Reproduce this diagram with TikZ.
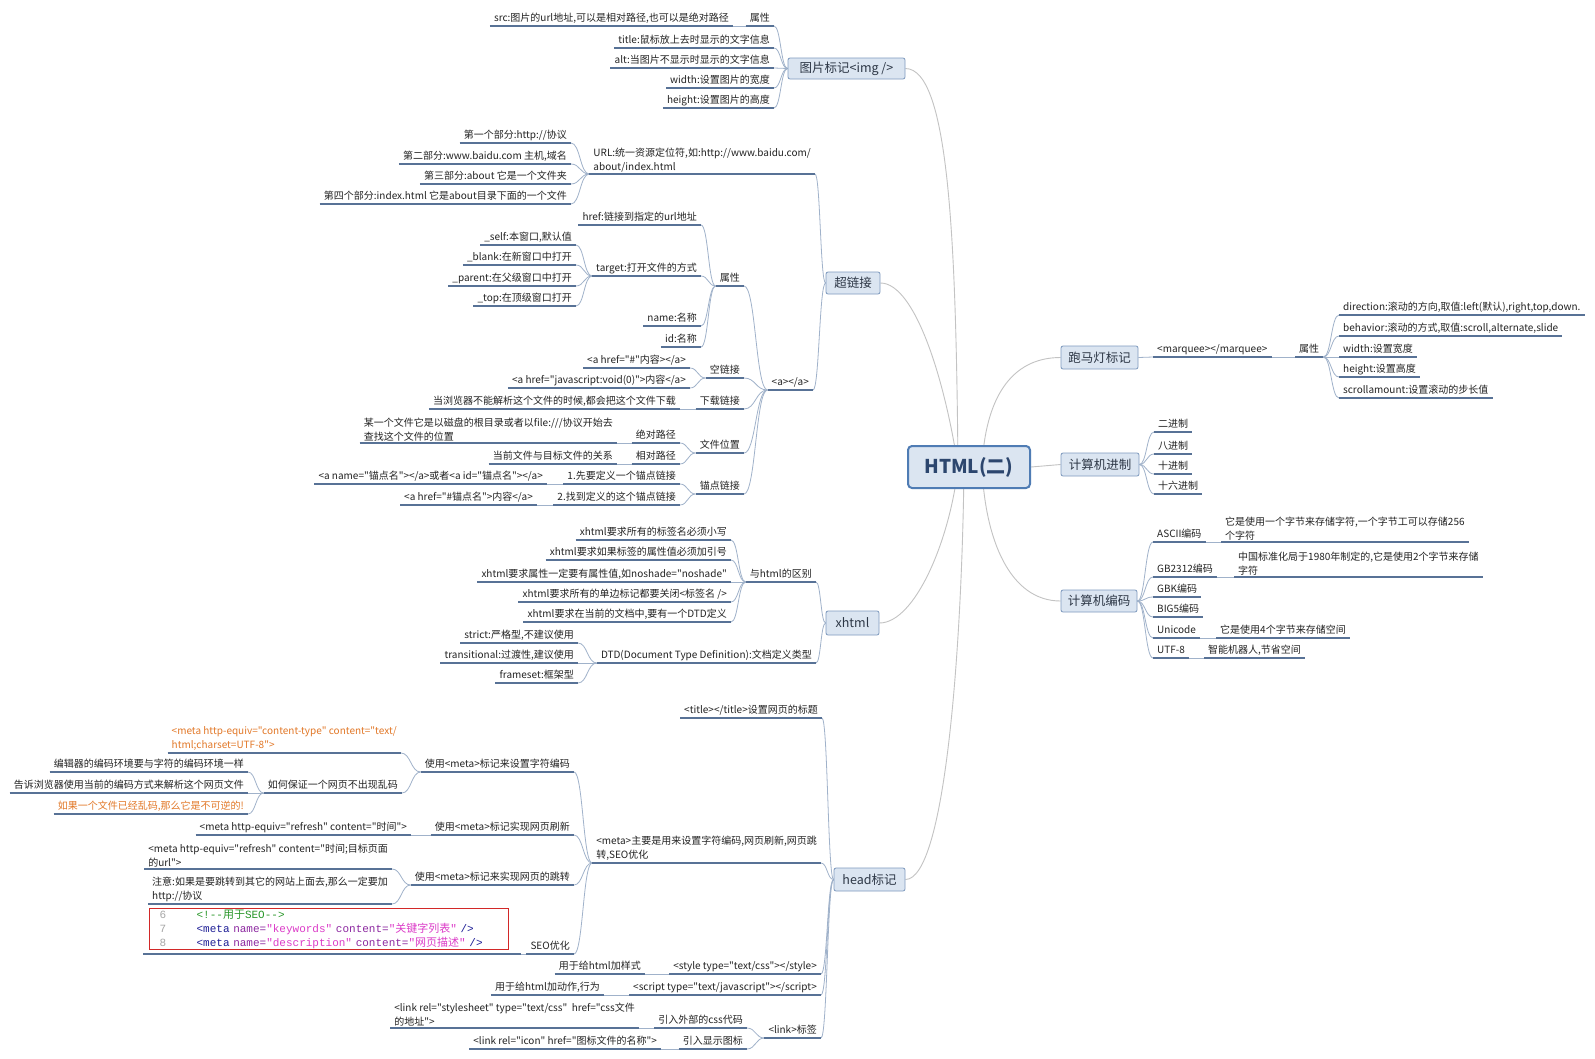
\documentclass[tikz,border=0pt]{standalone}
\usepackage{fontspec}
\setmainfont{Noto Sans CJK SC}[Ligatures=TeXOff]
\setmonofont{Liberation Mono}
\usetikzlibrary{calc}
\definecolor{ulc}{RGB}{88,114,150}
\definecolor{lnc}{RGB}{160,178,202}
\definecolor{mainln}{RGB}{195,195,195}
\definecolor{boxfill}{RGB}{219,229,241}
\definecolor{boxdraw}{RGB}{126,154,190}
\definecolor{ctrdraw}{RGB}{79,124,180}
\definecolor{ctrtext}{RGB}{44,70,110}
\definecolor{boxtext}{RGB}{45,55,70}
\definecolor{txt}{RGB}{35,35,35}
\definecolor{orng}{RGB}{226,120,40}
\definecolor{codegreen}{RGB}{40,150,40}
\definecolor{codenavy}{RGB}{30,30,150}
\definecolor{codepurple}{RGB}{140,40,160}
\definecolor{codepink}{RGB}{220,60,200}
\definecolor{codered}{RGB}{210,40,40}
\newcommand\codeln[2]{\makebox[37pt][l]{\color{gray!70}#1}#2}
\pgfdeclarelayer{bg}
\pgfsetlayers{bg,main}
\begin{document}
\begin{tikzpicture}[x=1pt,y=-1pt,
  every node/.style={text=txt},
  lf/.style={anchor=south east, inner xsep=4pt, inner ysep=2pt, font=\fontsize{10}{14}\selectfont, text height=8pt, text depth=2.5pt},
  rt/.style={lf, anchor=south west},
  lfm/.style={anchor=south east, inner xsep=4pt, inner ysep=2pt, font=\fontsize{10}{14}\selectfont, align=left},
  rtm/.style={lfm, anchor=south west},
  topic/.style={draw=boxdraw, fill=boxfill, rounded corners=2pt, line width=0.8pt, inner sep=0pt, font=\fontsize{12.5}{15}\selectfont, text=boxtext},
  hub/.style={draw=ctrdraw, fill=boxfill, rounded corners=4pt, line width=2pt, inner sep=0pt, font=\bfseries\fontsize{19}{22}\selectfont, text=ctrtext},
  ul/.style={draw=ulc, line width=1.3pt},
  mainc/.style={draw=mainln, line width=0.9pt},
  br/.style={draw=lnc, line width=0.8pt, to path={let \p1=(\tikztostart), \p2=(\tikztotarget) in .. controls ({(\x1+\x2)/2},\y1) and ({(\x1+\x2)/2},\y2) .. (\tikztotarget) \tikztonodes}}
]
\useasboundingbox (0,0) rectangle (1595,1058);
\begin{pgfonlayer}{bg}
\fill[white] (0,0) rectangle (1595,1058);
\end{pgfonlayer}

% ---------- topics ----------
\node[hub, minimum width=122pt, minimum height=42pt] (c) at (969,467) {HTML(二)};
\node[topic, minimum width=117pt, minimum height=21pt] (img) at (846.5,68.5) {图片标记<img />};
\node[topic, minimum width=54pt, minimum height=22pt] (link) at (853,283) {超链接};
\node[topic, minimum width=53pt, minimum height=24pt] (xhtml) at (852.5,623) {xhtml};
\node[topic, minimum width=71pt, minimum height=23pt] (head) at (869.5,879.5) {head标记};
\node[topic, minimum width=77pt, minimum height=23pt] (mqbox) at (1099.5,357.5) {跑马灯标记};
\node[topic, minimum width=78pt, minimum height=23pt] (jz) at (1100,464.5) {计算机进制};
\node[topic, minimum width=76pt, minimum height=22pt] (bm) at (1099,601) {计算机编码};

% ---------- img ----------
\node[lf] (imgattr) at (774,26) {属性};
\node[lf] (src) at (733,26) {src:图片的url地址,可以是相对路径,也可以是绝对路径};
\node[lf] (ititle) at (774,48) {title:鼠标放上去时显示的文字信息};
\node[lf] (ialt) at (774,68) {alt:当图片不显示时显示的文字信息};
\node[lf] (iwidth) at (774,88) {width:设置图片的宽度};
\node[lf] (iheight) at (774,108) {height:设置图片的高度};

% ---------- link ----------
\node[lfm] (url) at (815,174) {URL:统一资源定位符,如:http://www.baidu.com/\\about/index.html};
\node[lf] (u1) at (571,143) {第一个部分:http://协议};
\node[lf] (u2) at (571,164) {第二部分:www.baidu.com 主机,域名};
\node[lf] (u3) at (571,184) {第三部分:about 它是一个文件夹};
\node[lf] (u4) at (571,204) {第四个部分:index.html 它是about目录下面的一个文件};
\node[lf] (atag) at (813,390) {<a></a>};
\node[lf] (aattr) at (744,286) {属性};
\node[lf] (href) at (701,225) {href:链接到指定的url地址};
\node[lf] (target) at (701,276) {target:打开文件的方式};
\node[lf] (tself) at (576,245) {\_self:本窗口,默认值};
\node[lf] (tblank) at (576,265) {\_blank:在新窗口中打开};
\node[lf] (tparent) at (576,286) {\_parent:在父级窗口中打开};
\node[lf] (ttop) at (576,306) {\_top:在顶级窗口打开};
\node[lf] (aname) at (701,326) {name:名称};
\node[lf] (aid) at (701,347) {id:名称};
\node[lf] (empty) at (744,378) {空链接};
\node[lf] (e1) at (690,368) {<a href="\#"内容></a>};
\node[lf] (e2) at (690,388) {<a href="javascript:void(0)">内容</a>};
\node[lf] (dl) at (744,409) {下载链接};
\node[lf] (dl1) at (680,409) {当浏览器不能解析这个文件的时候,都会把这个文件下载};
\node[lf] (fp) at (744,453) {文件位置};
\node[lf] (abs) at (680,443) {绝对路径};
\node[lfm] (abs1) at (617,443) {某一个文件它是以磁盘的根目录或者以file:///协议开始去\\查找这个文件的位置};
\node[lf] (rel) at (680,464) {相对路径};
\node[lf] (rel1) at (617,464) {当前文件与目标文件的关系};
\node[lf] (anc) at (744,494) {锚点链接};
\node[lf] (anc1) at (680,484) {1.先要定义一个锚点链接};
\node[lf] (anc1a) at (547,484) {<a name="锚点名"></a>或者<a id="锚点名"></a>};
\node[lf] (anc2) at (680,505) {2.找到定义的这个锚点链接};
\node[lf] (anc2a) at (537,505) {<a href="\#锚点名">内容</a>};

% ---------- xhtml ----------
\node[lf] (diff) at (816,582) {与html的区别};
\node[lf] (x1) at (731,540) {xhtml要求所有的标签名必须小写};
\node[lf] (x2) at (731,560) {xhtml要求如果标签的属性值必须加引号};
\node[lf] (x3) at (731,582) {xhtml要求属性一定要有属性值,如noshade="noshade"};
\node[lf] (x4) at (731,602) {xhtml要求所有的单边标记都要关闭<标签名 />};
\node[lf] (x5) at (731,622) {xhtml要求在当前的文档中,要有一个DTD定义};
\node[lf] (dtd) at (816,663) {DTD(Document Type Definition):文档定义类型};
\node[lf] (dt1) at (578,643) {strict:严格型,不建议使用};
\node[lf] (dt2) at (578,663) {transitional:过渡性,建议使用};
\node[lf] (dt3) at (578,683) {frameset:框架型};

% ---------- head ----------
\node[lf] (htitle) at (822,718) {<title></title>设置网页的标题};
\node[lfm] (meta) at (821,863) {<meta>主要是用来设置字符编码,网页刷新,网页跳\\转,SEO优化};
\node[lf] (m1) at (574,772) {使用<meta>标记来设置字符编码};
\node[lfm, text=orng] (m1a) at (401,753) {<meta http-equiv="content-type" content="text/\\html;charset=UTF-8">};
\node[lf] (m1b) at (402,793) {如何保证一个网页不出现乱码};
\node[lf] (m1b1) at (248,772) {编辑器的编码环境要与字符的编码环境一样};
\node[lf] (m1b2) at (248,793) {告诉浏览器使用当前的编码方式来解析这个网页文件};
\node[lf, text=orng] (m1b3) at (248,814) {如果一个文件已经乱码,那么它是不可逆的!};
\node[lf] (m2) at (574,835) {使用<meta>标记实现网页刷新};
\node[lf] (m2a) at (411,835) {<meta http-equiv="refresh" content="时间">};
\node[lf] (m3) at (574,885) {使用<meta>标记来实现网页的跳转};
\node[lfm] (m3a) at (392,869) {<meta http-equiv="refresh" content="时间;目标页面\\的url">};
\node[lfm] (m3b) at (392,904) {注意:如果是要跳转到其它的网站上面去,那么一定要加\\http://协议};
\node[lf] (m4) at (574,954) {SEO优化};
\node[anchor=north west, draw=codered, line width=1.2pt, inner xsep=10pt, inner ysep=1pt, text width=339pt, align=left, font=\ttfamily\fontsize{11}{14}\selectfont] (seo) at (149,908) {%
\codeln{6}{\color{codegreen}<!-{}-{\rmfamily 用于}SEO-{}->}\\
\codeln{7}{{\color{codenavy}<meta} {\color{codepurple}name=}{\color{codepink}"keywords"} {\color{codepurple}content=}{\color{codepink}"{\rmfamily 关键字列表}"} {\color{codenavy}/>}}\\
\codeln{8}{{\color{codenavy}<meta} {\color{codepurple}name=}{\color{codepink}"description"} {\color{codepurple}content=}{\color{codepink}"{\rmfamily 网页描述}"} {\color{codenavy}/>}}};
\coordinate (seoL) at (143,954);
\coordinate (seoR) at (521,954);
\node[lf] (hstyle) at (821,974) {<style type="text/css"></style>};
\node[lf] (hstyle1) at (645,974) {用于给html加样式};
\node[lf] (hscript) at (821,995) {<script type="text/javascript"></script>};
\node[lf] (hscript1) at (604,995) {用于给html加动作,行为};
\node[lf] (hlink) at (821,1038) {<link>标签};
\node[lf] (hlink1) at (747,1028) {引入外部的css代码};
\node[lfm] (hlink1a) at (639,1028) {<link rel="stylesheet" type="text/css"\ \ href="css文件\\的地址">};
\node[lf] (hlink2) at (747,1049) {引入显示图标};
\node[lf] (hlink2a) at (661,1049) {<link rel="icon" href="图标文件的名称">};

% ---------- right side ----------
\node[rt] (mq) at (1153,357) {<marquee></marquee>};
\node[rt] (mqattr) at (1295,357) {属性};
\node[rt] (d1) at (1339,315) {direction:滚动的方向,取值:left(默认),right,top,down.};
\node[rt] (d2) at (1339,336) {behavior:滚动的方式,取值:scroll,alternate,slide};
\node[rt] (d3) at (1339,357) {width:设置宽度};
\node[rt] (d4) at (1339,377) {height:设置高度};
\node[rt] (d5) at (1339,398) {scrollamount:设置滚动的步长值};
\node[rt] (j1) at (1154,432) {二进制};
\node[rt] (j2) at (1154,454) {八进制};
\node[rt] (j3) at (1154,474) {十进制};
\node[rt] (j4) at (1154,494) {十六进制};
\node[rt] (b1) at (1153,542) {ASCII编码};
\node[rtm] (b1a) at (1221,542) {它是使用一个字节来存储字符,一个字节工可以存储256\\个字符};
\node[rt] (b2) at (1153,577) {GB2312编码};
\node[rtm] (b2a) at (1234,577) {中国标准化局于1980年制定的,它是使用2个字节来存储\\字符};
\node[rt] (b3) at (1153,597) {GBK编码};
\node[rt] (b4) at (1153,617) {BIG5编码};
\node[rt] (b5) at (1153,638) {Unicode};
\node[rt] (b5a) at (1216,638) {它是使用4个字节来存储空间};
\node[rt] (b6) at (1153,658) {UTF-8};
\node[rt] (b6a) at (1204,658) {智能机器人,节省空间};

% ---------- underlines ----------
\foreach \n in {imgattr,src,ititle,ialt,iwidth,iheight,
  url,u1,u2,u3,u4,atag,aattr,href,target,tself,tblank,tparent,ttop,aname,aid,
  empty,e1,e2,dl,dl1,fp,abs,abs1,rel,rel1,anc,anc1,anc1a,anc2,anc2a,
  diff,x1,x2,x3,x4,x5,dtd,dt1,dt2,dt3,
  htitle,meta,m1,m1a,m1b,m1b1,m1b2,m1b3,m2,m2a,m3,m3a,m3b,m4,
  hstyle,hstyle1,hscript,hscript1,hlink,hlink1,hlink1a,hlink2,hlink2a,
  mq,mqattr,d1,d2,d3,d4,d5,j1,j2,j3,j4,b1,b1a,b2,b2a,b3,b4,b5,b5a,b6,b6a}
  \draw[ul] (\n.south west) -- (\n.south east);
\draw[ul] (seoL) -- (seoR);

% ---------- connectors ----------
\coordinate (cl) at (958,467);
\coordinate (cr) at (982,467);
\coordinate (cc) at (964,467);
\begin{pgfonlayer}{bg}
\draw[mainc] (img.east) .. controls (950,68.5) and (956,250) .. (cl);
\draw[mainc] (link.east) .. controls (915,283) and (945,380) .. (cl);
\draw[mainc] (xhtml.east) .. controls (915,623) and (950,540) .. (cl);
\draw[mainc] (head.east) .. controls (945,879.5) and (962,650) .. (cc);
\draw[mainc] (cr) .. controls (985,400) and (1010,357.5) .. (mqbox.west);
\draw[mainc] (c.east) -- (jz.west);
\draw[mainc] (cr) .. controls (985,540) and (1010,601) .. (bm.west);

\foreach \k in {imgattr,ititle,ialt,iwidth,iheight} \draw[br] (img.west) to (\k.south east);
\draw[br] (imgattr.south west) to (src.south east);
\foreach \k in {url,atag} \draw[br] (link.west) to (\k.south east);
\foreach \k in {u1,u2,u3,u4} \draw[br] (url.south west) to (\k.south east);
\foreach \k in {aattr,empty,dl,fp,anc} \draw[br] (atag.south west) to (\k.south east);
\foreach \k in {href,target,aname,aid} \draw[br] (aattr.south west) to (\k.south east);
\foreach \k in {tself,tblank,tparent,ttop} \draw[br] (target.south west) to (\k.south east);
\foreach \k in {e1,e2} \draw[br] (empty.south west) to (\k.south east);
\draw[br] (dl.south west) to (dl1.south east);
\foreach \k in {abs,rel} \draw[br] (fp.south west) to (\k.south east);
\draw[br] (abs.south west) to (abs1.south east);
\draw[br] (rel.south west) to (rel1.south east);
\foreach \k in {anc1,anc2} \draw[br] (anc.south west) to (\k.south east);
\draw[br] (anc1.south west) to (anc1a.south east);
\draw[br] (anc2.south west) to (anc2a.south east);
\foreach \k in {diff,dtd} \draw[br] (xhtml.west) to (\k.south east);
\foreach \k in {x1,x2,x3,x4,x5} \draw[br] (diff.south west) to (\k.south east);
\foreach \k in {dt1,dt2,dt3} \draw[br] (dtd.south west) to (\k.south east);
\foreach \k in {htitle,meta,hstyle,hscript,hlink} \draw[br] (head.west) to (\k.south east);
\foreach \k in {m1,m2,m3,m4} \draw[br] (meta.south west) to (\k.south east);
\foreach \k in {m1a,m1b} \draw[br] (m1.south west) to (\k.south east);
\foreach \k in {m1b1,m1b2,m1b3} \draw[br] (m1b.south west) to (\k.south east);
\draw[br] (m2.south west) to (m2a.south east);
\foreach \k in {m3a,m3b} \draw[br] (m3.south west) to (\k.south east);
\draw[br] (m4.south west) to (seoR);
\draw[br] (hstyle.south west) to (hstyle1.south east);
\draw[br] (hscript.south west) to (hscript1.south east);
\foreach \k in {hlink1,hlink2} \draw[br] (hlink.south west) to (\k.south east);
\draw[br] (hlink1.south west) to (hlink1a.south east);
\draw[br] (hlink2.south west) to (hlink2a.south east);
\draw[br] (mqbox.east) to (mq.south west);
\draw[br] (mq.south east) to (mqattr.south west);
\foreach \k in {d1,d2,d3,d4,d5} \draw[br] (mqattr.south east) to (\k.south west);
\foreach \k in {j1,j2,j3,j4} \draw[br] (jz.east) to (\k.south west);
\foreach \k in {b1,b2,b3,b4,b5,b6} \draw[br] (bm.east) to (\k.south west);
\draw[br] (b1.south east) to (b1a.south west);
\draw[br] (b2.south east) to (b2a.south west);
\draw[br] (b5.south east) to (b5a.south west);
\draw[br] (b6.south east) to (b6a.south west);
\end{pgfonlayer}
\end{tikzpicture}
\end{document}
